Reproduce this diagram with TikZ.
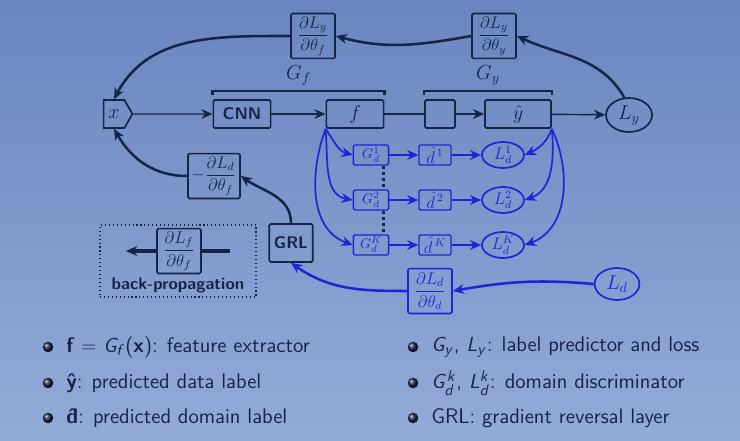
\documentclass[tikz,border=0pt]{standalone}
\usepackage{amsmath}
\usepackage{tikz}
\usetikzlibrary{positioning, arrows.meta, shapes.geometric, shapes.symbols}
\definecolor{navy}{RGB}{22,36,72}
\definecolor{dblue}{RGB}{32,36,212}
\definecolor{bgtop}{RGB}{106,134,192}
\definecolor{bgbot}{RGB}{148,170,216}
\DeclareMathAlphabet{\mathsfit}{OT1}{cmss}{m}{sl}
\tikzset{
    >={Stealth[length=8pt, width=7pt]}, % big arrow heads as on the slide
    block/.style={draw=navy, line width=1.2pt, rounded corners=1pt, text=navy, minimum height=0.7cm}, % forward boxes
    grad/.style={block, minimum width=1.1cm, minimum height=1.12cm, inner sep=1pt, font=\large}, % gradient boxes
    loss/.style={ellipse, draw=navy, line width=1.2pt, text=navy, minimum width=1.15cm, minimum height=0.85cm, inner sep=0pt, font=\Large},
    dbox/.style={draw=dblue, line width=1pt, rounded corners=1pt, text=dblue, minimum height=0.5cm, inner sep=1pt}, % domain boxes
    dloss/.style={ellipse, draw=dblue, line width=1.2pt, text=dblue, minimum width=1.05cm, minimum height=0.65cm, inner sep=0pt, font=\large},
    fwd/.style={->, draw=navy, line width=1pt},
    back/.style={->, draw=navy, line width=1.8pt},
    dfwd/.style={->, draw=dblue, line width=1.2pt},
    dback/.style={->, draw=dblue, line width=1.8pt},
    item/.style={anchor=west, text=navy, inner sep=0pt, font=\sffamily\fontsize{15}{18}\selectfont},
    ball/.style={circle, shading=ball, ball color=navy, inner sep=0pt, minimum size=7.5pt},
}

\begin{document}
\begin{tikzpicture}[x=0.025cm, y=0.025cm]
\useasboundingbox (0,0) rectangle (740,-440);
\shade[top color=bgtop, bottom color=bgbot] (0,0) rectangle (740,-440);

% forward path
\node[signal, signal to=east, signal pointer angle=120, draw=navy, line width=1.2pt, text=navy,
      minimum width=0.72cm, minimum height=0.7cm, inner sep=1pt, font=\Large] (x) at (114,-114) {$x$};
\node[block, minimum width=1.43cm, font=\large\sffamily\bfseries] (cnn) at (242,-114) {CNN};
\node[block, minimum width=1.43cm, font=\Large] (f) at (355,-114) {$f$};
\node[block, minimum width=0.75cm] (hid) at (440,-114) {};
\node[block, minimum width=1.65cm, font=\Large] (yhat) at (518,-114) {$\hat{y}$};
\node[loss] (Ly) at (629,-115) {$L_y$};
\draw[fwd] (x) -- (cnn);
\draw[fwd] (cnn) -- (f);
\draw[navy, line width=2pt] (f) -- (hid);
\draw[fwd, line width=2pt] (hid) -- (yhat);
\draw[fwd] (yhat) -- (Ly);

% brackets
\draw[navy, line width=1.5pt] ([yshift=3pt]cnn.north west) |- node[pos=0.75, above, text=navy, font=\Large] {$G_f$} ([yshift=6pt]f.north east) -- ([yshift=3pt]f.north east);
\draw[navy, line width=1.5pt] ([yshift=3pt]hid.north west) |- node[pos=0.75, above, text=navy, font=\Large] {$G_y$} ([yshift=6pt]yhat.north east) -- ([yshift=3pt]yhat.north east);

% back-propagation of L_y
\node[grad] (dLydthy) at (494,-36) {$\dfrac{\partial L_y}{\partial\theta_y}$};
\node[grad] (dLydthf) at (313,-36) {$\dfrac{\partial L_y}{\partial\theta_f}$};
\draw[back] (Ly.105) to[out=120, in=-25] (dLydthy.east);
\draw[back] (dLydthy.west) to[out=190, in=-15] (dLydthf.east);
\draw[back] (dLydthf.west) to[out=180, in=62] (x.north);

% gradient reversal
\node[grad, minimum width=1.3cm] (dLddthf) at (214,-176) {$-\dfrac{\partial L_d}{\partial\theta_f}$};
\node[block, minimum width=1.05cm, minimum height=0.95cm, font=\large\sffamily\bfseries] (grl) at (291,-243) {GRL};
\draw[back] (grl.north) to[out=90, in=-35] (dLddthf.east);
\draw[back] (dLddthf.west) to[out=180, in=-60] (x.south);

% domain discriminators
\foreach \k/\yy in {1/155, 2/200, K/245} {
    \node[dbox, minimum width=0.88cm] (Gd\k) at (371,-\yy) {$G_d^{\k}$};
    \node[dbox, minimum width=0.8cm, font=\large] (dh\k) at (435,-\yy) {$\hat{d}^{\,\k}$};
    \node[dloss] (Ld\k) at (503,-\yy) {$L_d^{\k}$};
    \draw[dfwd] (Gd\k) -- (dh\k);
    \draw[dfwd] (dh\k) -- (Ld\k);
}
\draw[navy, line width=2pt, dash pattern=on 2pt off 2.4pt] ([xshift=-4pt]Gd1.south east) -- ([xshift=-4pt]Gd2.north east);
\draw[navy, line width=2pt, dash pattern=on 2pt off 2.4pt] ([xshift=-4pt]Gd2.south east) -- ([xshift=-4pt]GdK.north east);
\draw[dfwd] (f.south west) to[out=-55, in=165] (Gd1.west);
\draw[dfwd] (f.south west) to[out=-85, in=170] (Gd2.west);
\draw[dfwd] (f.south west) to[out=-110, in=160] (GdK.west);
\draw[dfwd] (yhat.south east) to[out=-110, in=25] (Ld1.east);
\draw[dfwd] (yhat.south east) to[out=-85, in=20] (Ld2.east);
\draw[dfwd] (yhat.south east) to[out=-65, in=20] (LdK.east);

% domain loss
\node[dloss, minimum width=1.12cm, minimum height=0.8cm, font=\Large] (Ld) at (617,-284) {$L_d$};
\node[grad, draw=dblue, text=dblue] (dLddthd) at (430,-291) {$\dfrac{\partial L_d}{\partial\theta_d}$};
\draw[dback] (Ld.west) to[out=175, in=10] (dLddthd.east);
\draw[dback] (dLddthd.west) to[out=180, in=-35] (grl.south);

% legend box
\node[draw=navy, line width=0.8pt, dotted, minimum width=3.9cm, minimum height=1.8cm] (bpbox) at (178,-261) {};
\node[grad] (dLfdthf) at (179,-251) {$\dfrac{\partial L_f}{\partial\theta_f}$};
\coordinate (bpin) at (230,-251);
\coordinate (bpout) at (126,-251);
\draw[navy, line width=2.4pt] (bpin) -- (dLfdthf.east);
\draw[back, line width=2.4pt] (dLfdthf.west) -- (bpout);
\node[text=navy, font=\large\sffamily\bfseries] (bplabel) at (178,-285) {back-propagation};

% bullets
\node[ball] (b1) at (48,-347) {};
\node[ball] (b2) at (48,-383) {};
\node[ball] (b3) at (48,-418) {};
\node[ball] (b4) at (413,-347) {};
\node[ball] (b5) at (413,-383) {};
\node[ball] (b6) at (413,-418) {};
\node[item] (t1) at (66,-347) {\textbf{f} $=$ $\mathsfit{G}_{\mathsfit{f}}$(\textbf{x}): feature extractor};
\node[item] (t2) at (66,-383) {\textbf{\^y}: predicted data label};
\node[item] (t3) at (66,-418) {\textbf{\^d}: predicted domain label};
\node[item] (t4) at (431,-347) {$\mathsfit{G}_{\mathsfit{y}}$, $\mathsfit{L}_{\mathsfit{y}}$: label predictor and loss};
\node[item] (t5) at (431,-383) {$\mathsfit{G}^{\mathsfit{k}}_{\mathsfit{d}}$, $\mathsfit{L}^{\mathsfit{k}}_{\mathsfit{d}}$: domain discriminator};
\node[item] (t6) at (431,-418) {GRL: gradient reversal layer};
\end{tikzpicture}
\end{document}
